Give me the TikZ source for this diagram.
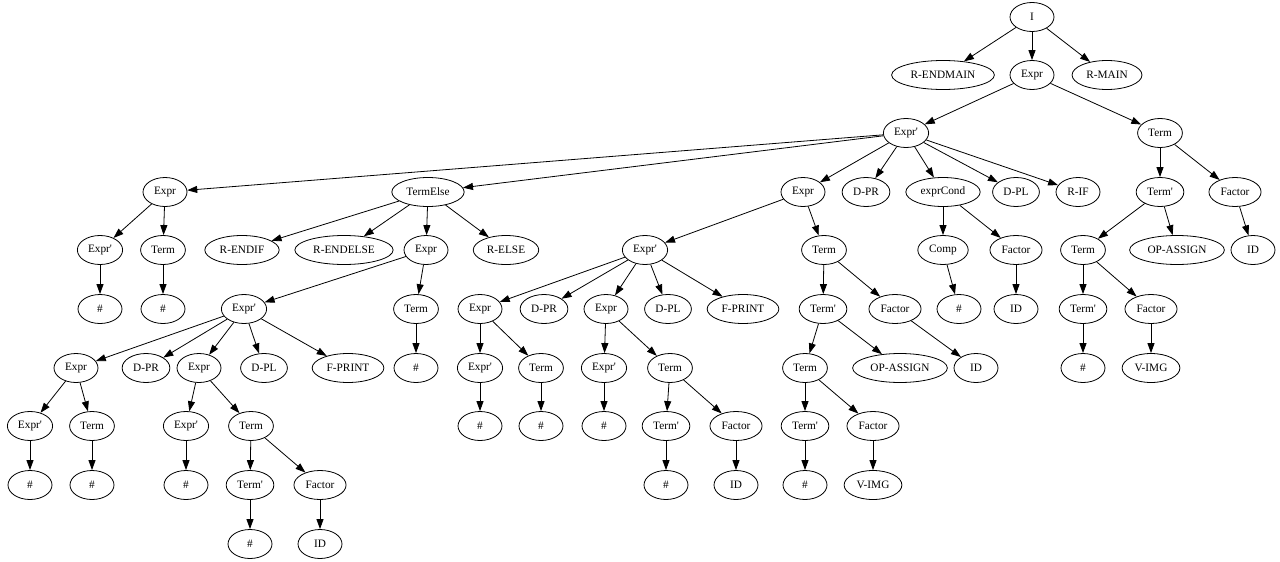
\documentclass[tikz,border=0pt]{standalone}
\usepackage{fontspec}
\setmainfont{Liberation Serif}[Ligatures=TeXOff]
\usetikzlibrary{arrows.meta, shapes.geometric}

\begin{document}
\begin{tikzpicture}[
        x=1pt, y=-1pt,
        sym/.style={draw, ellipse, line width=0.8pt, inner xsep=4pt, inner ysep=0pt,
                    minimum width=44pt, minimum height=29pt,
                    font=\fontsize{11.3}{13}\selectfont},
        arr/.style={-{Triangle[length=10pt, width=7pt]}, line width=0.8pt},
      ]
        \useasboundingbox (0,0) rectangle (1280,562);

        % row 0 and 1
        \node[sym] (root) at (1032,17) {I};
        \node[sym] (rendmain) at (943,75) {R-ENDMAIN};
        \node[sym] (expr) at (1032,75) {Expr};
        \node[sym] (rmain) at (1107,75) {R-MAIN};

        % row 2
        \node[sym] (exprp) at (906,133) {Expr'};
        \node[sym] (term) at (1160,133) {Term};

        % row 3
        \node[sym] (expr2) at (165,192) {Expr};
        \node[sym] (telse) at (428,192) {TermElse};
        \node[sym] (expr3) at (803,192) {Expr};
        \node[sym] (dpr1) at (866,192) {D-PR};
        \node[sym] (cond) at (943,192) {exprCond};
        \node[sym] (dpl1) at (1016,192) {D-PL};
        \node[sym] (rif) at (1078,192) {R-IF};
        \node[sym] (termp1) at (1160,192) {Term'};
        \node[sym] (factor1) at (1235,192) {Factor};

        % row 4
        \node[sym] (exprp2) at (100,250) {Expr'};
        \node[sym] (term2) at (163,250) {Term};
        \node[sym] (rendif) at (242,250) {R-ENDIF};
        \node[sym] (rendelse) at (344,250) {R-ENDELSE};
        \node[sym] (expr4) at (426,250) {Expr};
        \node[sym] (relse) at (506,250) {R-ELSE};
        \node[sym] (exprp3) at (645,250) {Expr'};
        \node[sym] (term3) at (824,250) {Term};
        \node[sym] (comp) at (943,250) {Comp};
        \node[sym] (factor2) at (1016,250) {Factor};
        \node[sym] (term4) at (1083,250) {Term};
        \node[sym] (opassign1) at (1177,250) {OP-ASSIGN};
        \node[sym] (id1) at (1253,250) {ID};

        % row 5
        \node[sym] (h1) at (100,309) {\#};
        \node[sym] (h2) at (163,309) {\#};
        \node[sym] (exprp4) at (244,309) {Expr'};
        \node[sym] (term5) at (416,309) {Term};
        \node[sym] (expr5) at (480,309) {Expr};
        \node[sym] (dpr2) at (544,309) {D-PR};
        \node[sym] (expr6) at (606,309) {Expr};
        \node[sym] (dpl2) at (668,309) {D-PL};
        \node[sym] (fprint1) at (743,309) {F-PRINT};
        \node[sym] (termp2) at (823,309) {Term'};
        \node[sym] (factor3) at (895,309) {Factor};
        \node[sym] (h3) at (959,309) {\#};
        \node[sym] (id2) at (1016,309) {ID};
        \node[sym] (termp3) at (1083,309) {Term'};
        \node[sym] (factor4) at (1151,309) {Factor};

        % row 6
        \node[sym] (expr7) at (76,368) {Expr};
        \node[sym] (dpr3) at (146,368) {D-PR};
        \node[sym] (expr8) at (199,368) {Expr};
        \node[sym] (dpl3) at (264,368) {D-PL};
        \node[sym] (fprint2) at (348,368) {F-PRINT};
        \node[sym] (h4) at (416,368) {\#};
        \node[sym] (exprp5) at (480,368) {Expr'};
        \node[sym] (term6) at (541,368) {Term};
        \node[sym] (exprp6) at (604,368) {Expr'};
        \node[sym] (term7) at (670,368) {Term};
        \node[sym] (term8) at (805,368) {Term};
        \node[sym] (opassign2) at (900,368) {OP-ASSIGN};
        \node[sym] (id3) at (976,368) {ID};
        \node[sym] (h5) at (1083,368) {\#};
        \node[sym] (vimg1) at (1151,368) {V-IMG};

        % row 7
        \node[sym] (exprp7) at (30,426) {Expr'};
        \node[sym] (term9) at (92,426) {Term};
        \node[sym] (exprp8) at (186,426) {Expr'};
        \node[sym] (term10) at (251,426) {Term};
        \node[sym] (h6) at (480,426) {\#};
        \node[sym] (h7) at (541,426) {\#};
        \node[sym] (h8) at (604,426) {\#};
        \node[sym] (termp4) at (666,426) {Term'};
        \node[sym] (factor5) at (736,426) {Factor};
        \node[sym] (termp5) at (805,426) {Term'};
        \node[sym] (factor6) at (873,426) {Factor};

        % row 8 and 9
        \node[sym] (h9) at (30,485) {\#};
        \node[sym] (h10) at (92,485) {\#};
        \node[sym] (h11) at (186,485) {\#};
        \node[sym] (termp6) at (250,485) {Term'};
        \node[sym] (factor7) at (320,485) {Factor};
        \node[sym] (h12) at (666,485) {\#};
        \node[sym] (id4) at (736,485) {ID};
        \node[sym] (h13) at (805,485) {\#};
        \node[sym] (vimg2) at (873,485) {V-IMG};
        \node[sym] (h14) at (250,544) {\#};
        \node[sym] (id5) at (320,544) {ID};

        % edges
        \draw[arr] (root) -- (rendmain);
        \draw[arr] (root) -- (expr);
        \draw[arr] (root) -- (rmain);
        \draw[arr] (expr) -- (exprp);
        \draw[arr] (expr) -- (term);
        \draw[arr] (exprp) -- (expr2);
        \draw[arr] (exprp) -- (telse);
        \draw[arr] (exprp) -- (expr3);
        \draw[arr] (exprp) -- (dpr1);
        \draw[arr] (exprp) -- (cond);
        \draw[arr] (exprp) -- (dpl1);
        \draw[arr] (exprp) -- (rif);
        \draw[arr] (term) -- (termp1);
        \draw[arr] (term) -- (factor1);
        \draw[arr] (expr2) -- (exprp2);
        \draw[arr] (expr2) -- (term2);
        \draw[arr] (telse) -- (rendif);
        \draw[arr] (telse) -- (rendelse);
        \draw[arr] (telse) -- (expr4);
        \draw[arr] (telse) -- (relse);
        \draw[arr] (expr3) -- (exprp3);
        \draw[arr] (expr3) -- (term3);
        \draw[arr] (cond) -- (comp);
        \draw[arr] (cond) -- (factor2);
        \draw[arr] (termp1) -- (term4);
        \draw[arr] (termp1) -- (opassign1);
        \draw[arr] (factor1) -- (id1);
        \draw[arr] (exprp2) -- (h1);
        \draw[arr] (term2) -- (h2);
        \draw[arr] (expr4) -- (exprp4);
        \draw[arr] (expr4) -- (term5);
        \draw[arr] (exprp3) -- (expr5);
        \draw[arr] (exprp3) -- (dpr2);
        \draw[arr] (exprp3) -- (expr6);
        \draw[arr] (exprp3) -- (dpl2);
        \draw[arr] (exprp3) -- (fprint1);
        \draw[arr] (term3) -- (termp2);
        \draw[arr] (term3) -- (factor3);
        \draw[arr] (comp) -- (h3);
        \draw[arr] (factor2) -- (id2);
        \draw[arr] (term4) -- (termp3);
        \draw[arr] (term4) -- (factor4);
        \draw[arr] (exprp4) -- (expr7);
        \draw[arr] (exprp4) -- (dpr3);
        \draw[arr] (exprp4) -- (expr8);
        \draw[arr] (exprp4) -- (dpl3);
        \draw[arr] (exprp4) -- (fprint2);
        \draw[arr] (term5) -- (h4);
        \draw[arr] (expr5) -- (exprp5);
        \draw[arr] (expr5) -- (term6);
        \draw[arr] (expr6) -- (exprp6);
        \draw[arr] (expr6) -- (term7);
        \draw[arr] (termp2) -- (term8);
        \draw[arr] (termp2) -- (opassign2);
        \draw[arr] (factor3) -- (id3);
        \draw[arr] (termp3) -- (h5);
        \draw[arr] (factor4) -- (vimg1);
        \draw[arr] (expr7) -- (exprp7);
        \draw[arr] (expr7) -- (term9);
        \draw[arr] (expr8) -- (exprp8);
        \draw[arr] (expr8) -- (term10);
        \draw[arr] (exprp5) -- (h6);
        \draw[arr] (term6) -- (h7);
        \draw[arr] (exprp6) -- (h8);
        \draw[arr] (term7) -- (termp4);
        \draw[arr] (term7) -- (factor5);
        \draw[arr] (term8) -- (termp5);
        \draw[arr] (term8) -- (factor6);
        \draw[arr] (exprp7) -- (h9);
        \draw[arr] (term9) -- (h10);
        \draw[arr] (exprp8) -- (h11);
        \draw[arr] (term10) -- (termp6);
        \draw[arr] (term10) -- (factor7);
        \draw[arr] (termp4) -- (h12);
        \draw[arr] (factor5) -- (id4);
        \draw[arr] (termp5) -- (h13);
        \draw[arr] (factor6) -- (vimg2);
        \draw[arr] (termp6) -- (h14);
        \draw[arr] (factor7) -- (id5);
      \end{tikzpicture}
\end{document}
